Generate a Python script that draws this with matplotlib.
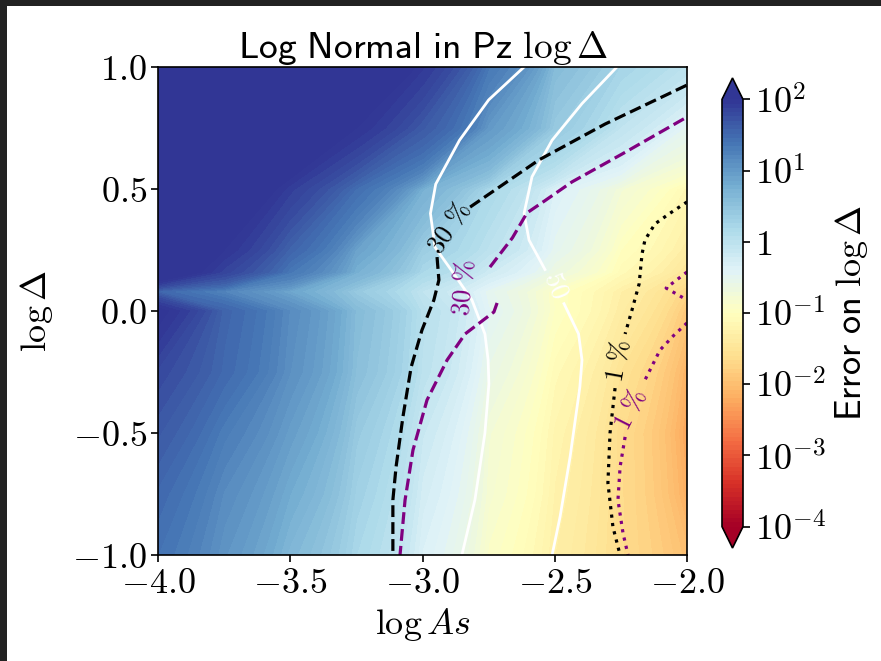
import matplotlib
matplotlib.use("Agg")
import matplotlib.pyplot as plt
from matplotlib.colors import LogNorm
from matplotlib.patches import Rectangle
from matplotlib.ticker import FuncFormatter
import numpy as np

plt.rcParams['mathtext.fontset'] = 'cm'

# grid of the error map (values are log10 of the error)
log_as = [-4.0, -3.75, -3.5, -3.25, -3.0, -2.75, -2.5, -2.25, -2.0]
log_delta = [-1.0, -0.75, -0.5, -0.25, 0.0, 0.08, 0.16, 0.25, 0.5, 0.75, 1.0]
log_err = [
    [1.40, 1.05, 0.65, 0.20, -0.35, -0.90, -1.30, -1.65, -2.00],   # -1.0
    [1.50, 1.15, 0.80, 0.30, -0.25, -0.80, -1.25, -1.65, -2.20],   # -0.75
    [1.65, 1.30, 0.95, 0.40, -0.15, -0.75, -1.20, -1.65, -2.30],   # -0.5
    [1.80, 1.50, 1.10, 0.55, 0.00, -0.60, -1.10, -1.55, -2.15],    # -0.25
    [2.05, 1.55, 1.15, 0.60, 0.05, -0.45, -0.95, -1.35, -1.90],    # 0.0
    [1.50, 1.20, 0.85, 0.40, -0.05, -0.50, -0.95, -1.30, -1.75],   # 0.08
    [2.20, 1.85, 1.35, 0.75, 0.20, -0.20, -0.65, -1.10, -1.50],    # 0.16
    [2.30, 2.00, 1.55, 0.90, 0.35, 0.00, -0.50, -1.00, -1.35],     # 0.25
    [2.60, 2.25, 1.90, 1.45, 0.75, 0.20, -0.35, -0.75, -1.15],     # 0.5
    [2.80, 2.60, 2.30, 2.00, 1.65, 1.00, 0.40, -0.05, -0.50],      # 0.75
    [3.00, 2.80, 2.60, 2.30, 1.95, 1.35, 0.60, 0.25, 0.00],        # 1.0
]

# contour lines (pieces between inline labels)
black30_up_x = [-2.82, -2.56, -2.31, -2.0]
black30_up_y = [0.426, 0.619, 0.766, 0.926]
black30_lo_x = [-2.945, -2.938, -2.957, -3.002, -3.043, -3.074, -3.100, -3.112, -3.112]
black30_lo_y = [0.221, 0.127, 0.045, -0.078, -0.230, -0.434, -0.639, -0.775, -1.0]

purple30_up_x = [-2.745, -2.66, -2.605, -2.54, -2.435, -2.246, -2.0]
purple30_up_y = [0.180, 0.300, 0.402, 0.450, 0.529, 0.643, 0.795]
purple30_lo_x = [-2.718, -2.730, -2.839, -2.907, -2.983, -3.036, -3.066, -3.085]
purple30_lo_y = [0.033, -0.004, -0.094, -0.201, -0.365, -0.570, -0.775, -1.0]

black1_up_x = [-2.0, -2.068, -2.121, -2.159, -2.170, -2.181, -2.208, -2.234]
black1_up_y = [0.447, 0.398, 0.357, 0.291, 0.234, 0.111, 0.004, -0.094]
black1_lo_x = [-2.272, -2.291, -2.299, -2.280, -2.253]
black1_lo_y = [-0.316, -0.500, -0.705, -0.885, -1.0]

purple1_up_x = [-2.0, -2.05, -2.102, -2.159]
purple1_up_y = [-0.049, -0.100, -0.160, -0.283]
purple1_lo_x = [-2.234, -2.253, -2.261, -2.242, -2.223]
purple1_lo_y = [-0.516, -0.639, -0.775, -0.910, -1.0]
purple1_wedge_x = [-2.0, -2.079, -2.0]
purple1_wedge_y = [0.160, 0.094, 0.045]

white_left_x = [-2.616, -2.75, -2.86, -2.95, -2.97, -2.953, -2.881, -2.813, -2.764,
                -2.752, -2.749, -2.764, -2.783, -2.802, -2.851]
white_left_y = [1.0, 0.865, 0.70, 0.52, 0.40, 0.262, 0.152, 0.045, -0.094,
                -0.20, -0.299, -0.50, -0.639, -0.775, -1.0]
white_right_up_x = [-2.265, -2.397, -2.51, -2.586, -2.616, -2.597, -2.537]
white_right_up_y = [1.0, 0.85, 0.70, 0.55, 0.40, 0.29, 0.17]
white_right_lo_x = [-2.465, -2.41, -2.397, -2.405, -2.442, -2.48, -2.51]
white_right_lo_y = [0.03, -0.094, -0.201, -0.311, -0.598, -0.844, -1.0]

# inline labels: text, x, y, rotation, colour
labels = [
    (r'$30\ \%$', -2.895, 0.340, 56, 'black'),
    (r'$30\ \%$', -2.840, 0.094, 85, 'purple'),
    (r'$1\ \%$', -2.258, -0.205, 80, 'black'),
    (r'$1\ \%$', -2.212, -0.405, 63, 'purple'),
    (r'$50$', -2.497, 0.107, -68, 'white'),
]

cbar_ticks = [1e-4, 1e-3, 1e-2, 1e-1, 1, 1e1, 1e2]
cbar_ticklabels = [r'$10^{-4}$', r'$10^{-3}$', r'$10^{-2}$', r'$10^{-1}$', r'$1$',
                   r'$10^{1}$', r'$10^{2}$']

fs = 26

fig = plt.figure(figsize=(8.81, 6.61), dpi=100)
ax = fig.add_axes([158 / 881, 1 - 555 / 661, 529 / 881, 488 / 661])
cax = fig.add_axes([722 / 881, 1 - 548 / 661, 21 / 881, 470 / 661])

X, Y = np.meshgrid(log_as, log_delta)
Z = 10.0 ** np.array(log_err)
levels = np.logspace(-4, 2, 101)
cf = ax.contourf(X, Y, Z, levels=levels, cmap='RdYlBu', norm=LogNorm(1e-4, 1e2),
                 extend='both')

lw = 2.3
ax.plot(white_left_x, white_left_y, color='white', lw=2.0)
ax.plot(white_right_up_x, white_right_up_y, color='white', lw=2.0)
ax.plot(white_right_lo_x, white_right_lo_y, color='white', lw=2.0)
ax.plot(black30_up_x, black30_up_y, color='black', ls='--', lw=lw)
ax.plot(black30_lo_x, black30_lo_y, color='black', ls='--', lw=lw)
ax.plot(purple30_up_x, purple30_up_y, color='purple', ls='--', lw=lw)
ax.plot(purple30_lo_x, purple30_lo_y, color='purple', ls='--', lw=lw)
ax.plot(black1_up_x, black1_up_y, color='black', ls=':', lw=lw)
ax.plot(black1_lo_x, black1_lo_y, color='black', ls=':', lw=lw)
ax.plot(purple1_up_x, purple1_up_y, color='purple', ls=':', lw=lw)
ax.plot(purple1_lo_x, purple1_lo_y, color='purple', ls=':', lw=lw)
ax.plot(purple1_wedge_x, purple1_wedge_y, color='purple', ls=':', lw=lw)

for txt, lx, ly, rot, col in labels:
    ax.text(lx, ly, txt, color=col, fontsize=19, rotation=rot,
            ha='center', va='center', rotation_mode='anchor')

ax.set_xlim(-4.0, -2.0)
ax.set_ylim(-1.0, 1.0)
ax.set_xticks([-4.0, -3.5, -3.0, -2.5, -2.0])
ax.set_yticks([-1.0, -0.5, 0.0, 0.5, 1.0])
fmt = FuncFormatter(lambda v, p: '$%.1f$' % v)
ax.xaxis.set_major_formatter(fmt)
ax.yaxis.set_major_formatter(fmt)
ax.tick_params(labelsize=fs, length=5, width=1.2, pad=3)
for s in ax.spines.values():
    s.set_linewidth(1.2)

ax.set_xlabel(r'$\log As$', fontsize=fs, labelpad=4)
ax.set_ylabel(r'$\log\Delta$', fontsize=fs)
ax.yaxis.set_label_coords(-0.195, 0.5)
ax.set_title(r'$\mathsf{Log\ Normal\ in\ Pz}\ \log\Delta$', fontsize=27, pad=6)

cb = fig.colorbar(cf, cax=cax, extend='both')
cb.set_ticks(cbar_ticks, labels=cbar_ticklabels)
cb.ax.minorticks_off()
cb.ax.tick_params(labelsize=fs, length=5, width=1.2)
cb.outline.set_linewidth(1.2)
cb.set_label(r'$\mathsf{Error\ on}\ \log\Delta$', fontsize=fs, labelpad=5)

# dark frame visible along the top and left edges of the screenshot
fig.add_artist(Rectangle((0, 1 - 6 / 661), 1, 6 / 661, transform=fig.transFigure,
                         color='#222222', lw=0, zorder=10))
fig.add_artist(Rectangle((0, 0), 7 / 881, 1, transform=fig.transFigure,
                         color='#222222', lw=0, zorder=10))

fig.savefig('out.png', dpi=100)
